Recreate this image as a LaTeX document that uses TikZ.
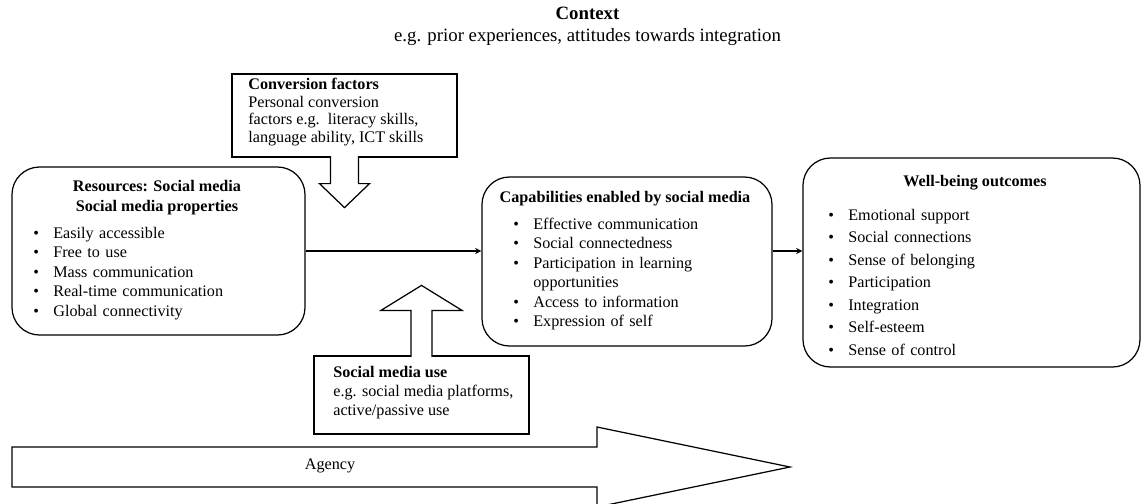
\documentclass[tikz,border=0pt]{standalone}
\usepackage{fontspec}
\setmainfont{Liberation Serif}
\usetikzlibrary{positioning}
\newcommand{\bitem}[1]{\par\noindent\hyphenpenalty=10000\hangindent=0.4cm\hangafter=1\makebox[0.4cm][l]{\textbullet}#1}

\begin{document}
\begin{tikzpicture}
        \tikzstyle{rbox} = [rectangle, rounded corners=0.55cm, draw=black, line width=0.7pt, inner sep=0pt]
        \tikzstyle{sbox} = [rectangle, draw=black, line width=0.7pt, inner sep=0pt]
        \tikzstyle{txt} = [inner sep=0pt, align=left, font=\fontsize{9.2}{11.1}\selectfont]
        \tikzstyle{head} = [inner sep=0pt, align=center, font=\bfseries\fontsize{9.2}{11.4}\selectfont]
        \tikzstyle{arrow} = [line width=0.6pt,->,>=stealth]
        \tikzstyle{block} = [line width=0.7pt, fill=white]

                \useasboundingbox (0,0) rectangle (22.82,-10.06);

                \node (ctx) [align=center, inner sep=0pt, font=\fontsize{10.7}{12.5}\selectfont] at (11.75,-0.52) {\textbf{Context}\\ e.g. prior experiences, attitudes towards integration};

                \node (res) [rbox, minimum width=5.86cm, minimum height=3.36cm] at (3.17,-5.02) {};
                \node (cap) [rbox, minimum width=5.8cm, minimum height=3.38cm] at (12.54,-5.23) {};
                \node (wb) [rbox, minimum width=6.74cm, minimum height=4.18cm] at (19.43,-5.25) {};
                \node (conv) [sbox, minimum width=4.5cm, minimum height=1.66cm] at (6.89,-2.31) {};
                \node (smu) [sbox, minimum width=4.3cm, minimum height=1.56cm] at (8.43,-7.9) {};

                \node (resh) [head] at (3.14,-3.96) {Resources: Social media\\ Social media properties};
                \node (resl) [txt, text width=5cm, anchor=west] at (0.66,-5.38) {\bitem{Easily accessible}\bitem{Free to use}\bitem{Mass communication}\bitem{Real-time communication}\bitem{Global connectivity}};

                \node (caph) [head] at (12.50,-3.98) {Capabilities enabled by social media};
                \node (capl) [txt, text width=4.55cm, anchor=west] at (10.26,-5.40) {\bitem{Effective communication}\bitem{Social connectedness}\bitem{Participation in learning opportunities}\bitem{Access to information}\bitem{Expression of self}};

                \node (wbh) [head] at (19.50,-3.66) {Well-being outcomes};
                \node (wbl) [txt, text width=5.5cm, anchor=west, font=\fontsize{9.2}{12.8}\selectfont] at (16.56,-5.53) {\bitem{Emotional support}\bitem{Social connections}\bitem{Sense of belonging}\bitem{Participation}\bitem{Integration}\bitem{Self-esteem}\bitem{Sense of control}};

                \node (convt) [txt, anchor=west, font=\fontsize{9.2}{10}\selectfont] at (4.96,-2.24) {\textbf{Conversion factors}\\ Personal conversion\\ factors e.g.\ \ literacy skills,\\ language ability, ICT skills};
                \node (smut) [txt, anchor=west, font=\fontsize{9.2}{10.8}\selectfont] at (6.66,-7.86) {\textbf{Social media use}\\ e.g. social media platforms,\\ active/passive use};

                \draw[arrow] (res.east) -- (res.east -| cap.west);
                \draw[arrow] (cap.east |- res.east) -- (wb.west |- res.east);

                % block arrows
                \draw[block] ([xshift=-0.28cm, yshift=0.03cm]conv.south) -- ++(0,-0.55) -- ++(-0.22,0) -- ++(0.5,-0.48) -- ++(0.5,0.48) -- ++(-0.22,0) -- ++(0,0.55);
                \draw[block] ([xshift=-0.21cm, yshift=-0.03cm]smu.north) -- ++(0,0.93) -- ++(-0.6,0) -- ++(0.81,0.5) -- ++(0.81,-0.5) -- ++(-0.6,0) -- ++(0,-0.93);

                \draw[line width=0.7pt] (0.24,-8.94) -- (11.94,-8.94) -- (11.94,-8.54) -- (15.80,-9.34) -- (11.94,-10.14) -- (11.94,-9.74) -- (0.24,-9.74) -- cycle;
                \node (agency) [txt] at (6.6,-9.32) {Agency};

    \end{tikzpicture}
\end{document}
